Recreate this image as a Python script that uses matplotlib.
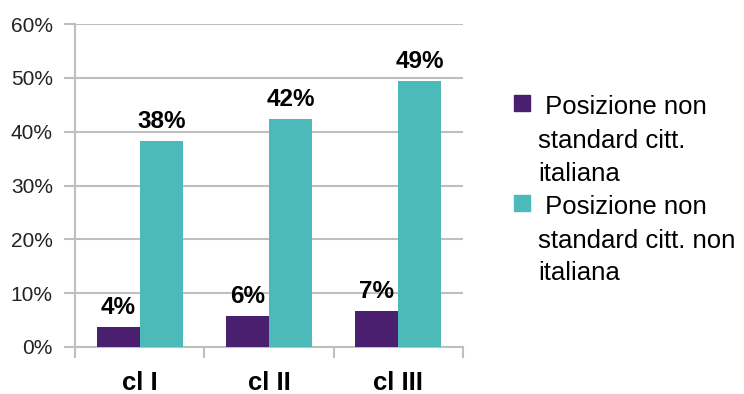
import numpy as np
import matplotlib
matplotlib.use("Agg")
import matplotlib.pyplot as plt
from matplotlib.patches import Rectangle

plt.rcParams['font.family'] = ['Liberation Sans', 'DejaVu Sans']

# classi e percentuali
categories = ['cl I', 'cl II', 'cl III']
ita = [3.7, 5.8, 6.6]
non_ita = [38.2, 42.3, 49.4]
series_labels = [' Posizione non\nstandard citt.\nitaliana',
                 ' Posizione non\nstandard citt. non\nitaliana']
yticks = [0, 10, 20, 30, 40, 50, 60]

c_ita = '#4b1f6f'
c_non = '#4bbab9'
grey = '#bfbfbf'

W, H = 744, 394
fig = plt.figure(figsize=(W/100, H/100), dpi=100)
ax = fig.add_axes([75/W, 1-347/H, 388/W, 323/H])

x = np.arange(len(categories))
w = 1/3
b1 = ax.bar(x - w/2, ita, w, color=c_ita, zorder=3)
b2 = ax.bar(x + w/2, non_ita, w, color=c_non, zorder=3)

for bars, vals in [(b1, ita), (b2, non_ita)]:
    for r, v in zip(bars, vals):
        ax.annotate('{:.0f}%'.format(v), (r.get_x() + r.get_width()/2, v),
                    xytext=(0, 9.5), textcoords='offset points',
                    ha='center', va='baseline', fontsize=17.5, fontweight='bold')

ax.set_xlim(-0.5, len(categories) - 0.5)
ax.set_ylim(0, 60)
ax.set_yticks(yticks)
ax.set_yticklabels(['{}%'.format(t) for t in yticks])
ax.yaxis.grid(True, color=grey, linewidth=1.5, zorder=0)
ax.tick_params(axis='y', length=8, width=1.5, color=grey, pad=8,
               labelsize=15, labelcolor='#222222')

ax.set_xticks(x)
ax.set_xticklabels(categories, fontsize=18.5, fontweight='bold')
ax.tick_params(axis='x', which='major', length=0, pad=17.5)
ax.set_xticks(np.arange(-0.5, len(categories)), minor=True)
ax.tick_params(axis='x', which='minor', length=8, width=1.5, color=grey)

for s in ['top', 'right']:
    ax.spines[s].set_visible(False)
for s in ['left', 'bottom']:
    ax.spines[s].set_color(grey)
    ax.spines[s].set_linewidth(1.5)

# legenda a destra, una riga alla volta (passo 33 px)
line_h = 33
for i, (lab, col) in enumerate(zip(series_labels, [c_ita, c_non])):
    base = 114.5 + 100 * i
    fig.add_artist(Rectangle((514/W, 1-(base-4)/H), 16/W, 16/H,
                             transform=fig.transFigure, color=col))
    for k, line in enumerate(lab.split('\n')):
        fig.text(538/W, 1-(base + k*line_h)/H, line, fontsize=18.5,
                 va='baseline', ha='left')

fig.savefig('out.png', dpi=100)
